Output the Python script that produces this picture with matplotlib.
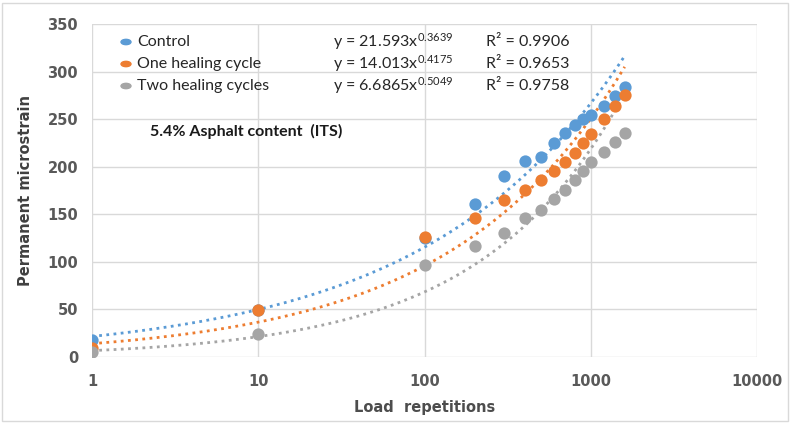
import numpy as np
import matplotlib
matplotlib.use("Agg")
import matplotlib.pyplot as plt
from matplotlib.patches import Rectangle

# Load repetitions at which permanent strain was recorded
load_reps = [1, 10, 100, 200, 300, 400, 500, 600, 700, 800, 900, 1000, 1200, 1400, 1600]

# Permanent microstrain for each condition
control = [18, 49, 125, 161, 190, 206, 210, 225, 235, 244, 250, 254, 264, 274, 284]
one_healing = [9, 49, 126, 146, 165, 175, 186, 195, 205, 214, 225, 234, 250, 264, 275]
two_healing = [5, 24, 97, 117, 130, 146, 155, 166, 176, 186, 196, 205, 215, 226, 235]

series_names = ["Control", "One healing cycle", "Two healing cycles"]
fit_coef = [21.593, 14.013, 6.6865]
fit_exp = [0.3639, 0.4175, 0.5049]
fit_r2 = ["0.9906", "0.9653", "0.9758"]
colors = ["#5B9BD5", "#ED7D31", "#A5A5A5"]

y_ticks = [0, 50, 100, 150, 200, 250, 300, 350]
x_ticks = [1, 10, 100, 1000, 10000]
x_tick_labels = ["1", "10", "100", "1000", "10000"]

plt.rcParams["mathtext.fontset"] = "custom"
plt.rcParams["mathtext.rm"] = "Lato"
plt.rcParams["mathtext.it"] = "Lato"

fig = plt.figure(figsize=(7.91, 4.23), dpi=100)
ax = fig.add_axes([92 / 791, 66 / 423, 665 / 791, 333 / 423])

ax.set_xscale("log")
ax.set_xlim(1, 10000)
ax.set_ylim(0, 350)

# power-law trend lines
xs = np.logspace(0, np.log10(load_reps[-1]), 200)
for a, b, c in zip(fit_coef, fit_exp, colors):
    ax.plot(xs, a * xs ** b, linestyle=(0, (1, 1.6)), linewidth=2.0, color=c, zorder=2)

# measured points
for vals, c in zip([control, one_healing, two_healing], colors):
    ax.scatter(load_reps, vals, s=78, color=c, zorder=3, linewidths=0)

ax.set_yticks(y_ticks)
ax.set_xticks(x_ticks)
ax.set_xticklabels(x_tick_labels)
ax.xaxis.set_minor_locator(matplotlib.ticker.NullLocator())
ax.grid(True, color="#D9D9D9", linewidth=1.0, zorder=0)
ax.set_axisbelow(True)
for s in ax.spines.values():
    s.set_visible(False)
ax.tick_params(length=0, labelsize=10.5, labelcolor="#595959")
for lbl in ax.get_xticklabels() + ax.get_yticklabels():
    lbl.set_fontweight("bold")
ax.tick_params(axis="x", pad=12)
ax.tick_params(axis="y", pad=10)

ax.set_xlabel("Load  repetitions", fontsize=10.5, fontweight="bold", color="#4d4d4d", labelpad=8)
ax.set_ylabel("Permanent microstrain", fontsize=10.5, fontweight="bold", color="#404040", labelpad=10)

# legend with fit equations
rows_y = [42, 64, 86]
for name, c, a, b, r2, py in zip(series_names, colors, fit_coef, fit_exp, fit_r2, rows_y):
    fy = 1 - py / 423
    fig.patches.append(plt.Circle((126 / 791, fy), 0.0063, transform=fig.transFigure,
                                  color=c, figure=fig))
    fig.text(137 / 791, fy, name, fontsize=11.5, family="Lato", color="#262626", va="center")
    fig.text(333 / 791, fy, "y = %sx$^{%.4f}$" % (a, b), fontsize=11.5, family="Lato",
             color="#262626", va="center")
    fig.text(486 / 791, fy, "R² = " + r2, fontsize=11.5, family="Lato", color="#262626",
             va="center")

fig.text(150 / 791, 1 - 131 / 423, "5.4% Asphalt content  (ITS)", fontsize=11.5,
         family="Lato", fontweight="bold", color="#1a1a1a", va="center")

# chart border
fig.patches.append(Rectangle((0.003, 0.005), 0.993, 0.988, transform=fig.transFigure,
                             fill=False, edgecolor="#D9D9D9", linewidth=1.0, figure=fig))

fig.savefig("out.png", dpi=100)
